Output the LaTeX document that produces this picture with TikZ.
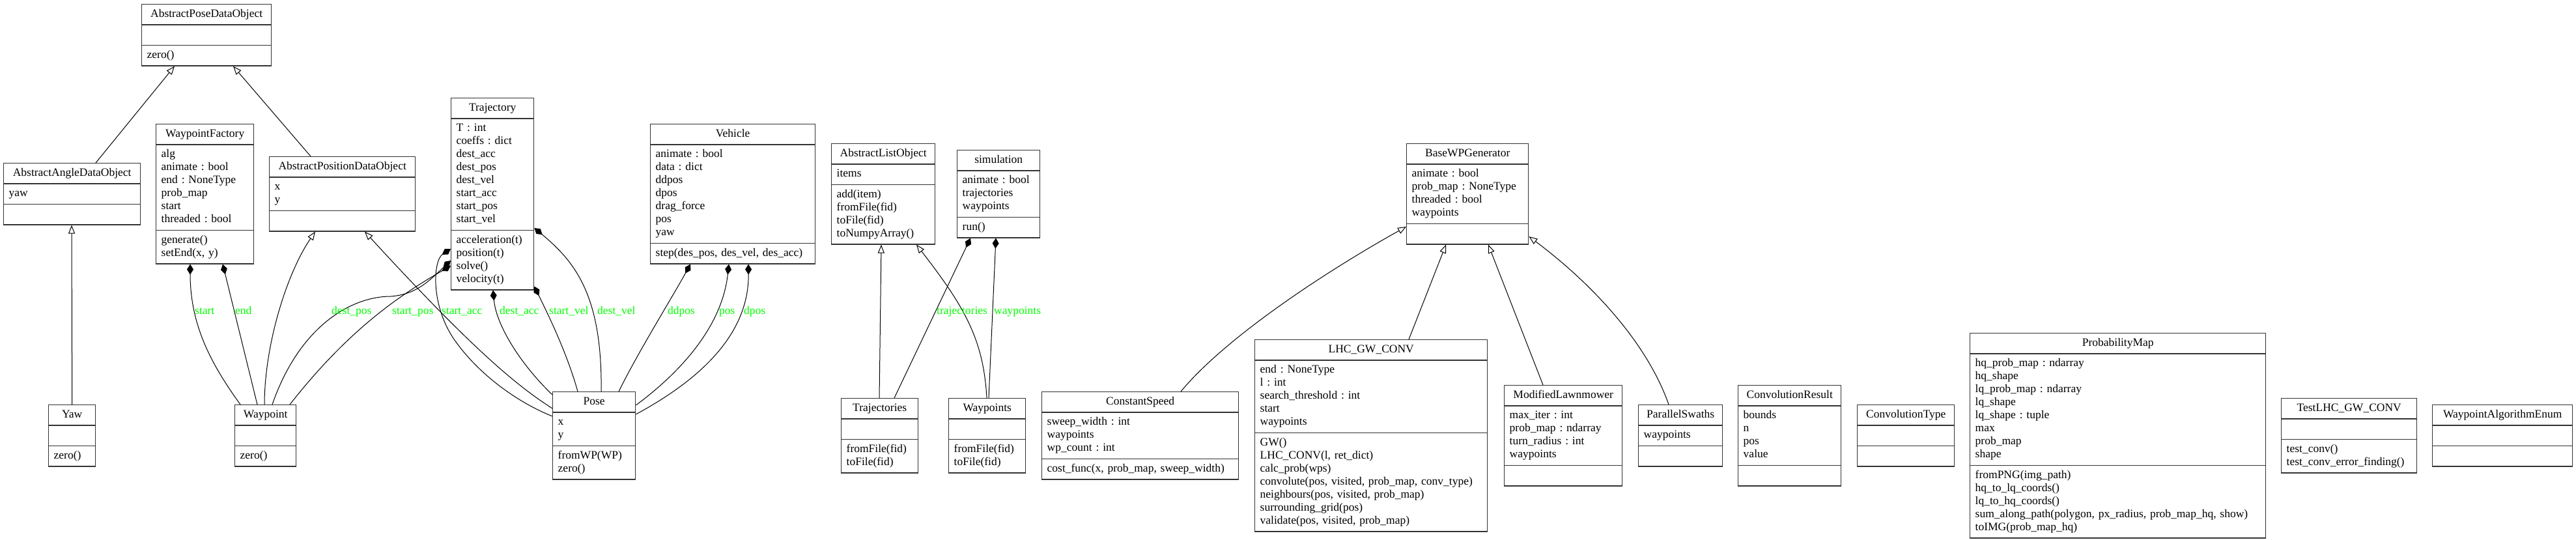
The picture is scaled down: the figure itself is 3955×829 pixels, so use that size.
\documentclass[tikz,border=0pt]{standalone}
\usepackage{fontspec}
\setmainfont{Liberation Serif}
\usetikzlibrary{shapes.multipart,arrows.meta}
\definecolor{labgreen}{RGB}{0,255,0}
\newcommand\umlfont{\fontsize{17.5}{20}\selectfont}
\newcommand\umltitle[1]{\makebox[\linewidth]{\strut #1}}
\setlength\parindent{0pt}
\frenchspacing

\begin{document}
\begin{tikzpicture}[ x=1pt, y=-1pt,
        umlclass/.style={ rectangle split, rectangle split parts=3,
          draw=black!80, line width=1.4pt, anchor=north west, align=left,
          inner xsep=8pt, inner ysep=5pt, font=\umlfont },
        inherit/.style={ -{Triangle[open,length=13pt,width=10pt]}, line width=1pt },
        compose/.style={ {Diamond[length=16pt,width=10pt]}-, line width=1pt },
        elabel/.style={ text=labgreen, anchor=base west, inner sep=0pt, font=\umlfont } ]
        \useasboundingbox[fill=white] (0,0) rectangle (3955,829);

        % pose data objects
        \node[umlclass, text width=183pt] (apdo) at (217,6)
        {\umltitle{AbstractPoseDataObject} \nodepart{two}\strut \nodepart{three}\strut zero()};
        \node[umlclass, text width=194pt] (aado) at (5,250)
        {\umltitle{AbstractAngleDataObject} \nodepart{two}\strut yaw \nodepart{three}\strut};
        \node[umlclass, text width=208pt] (aposdo) at (413,240)
        {\umltitle{AbstractPositionDataObject} \nodepart{two}\strut x\\y\strut \nodepart{three}\strut};
        \node[umlclass, text width=56pt] (yaw) at (74,621)
        {\umltitle{Yaw} \nodepart{two}\strut \nodepart{three}\strut zero()};
        \node[umlclass, text width=78pt] (wp) at (360,621)
        {\umltitle{Waypoint} \nodepart{two}\strut \nodepart{three}\strut zero()};
        \node[umlclass, text width=111pt] (pose) at (848,601)
        {\umltitle{Pose} \nodepart{two}\strut x\\y\strut \nodepart{three}\strut fromWP(WP)\\zero()\strut};

        \node[umlclass, text width=134pt] (wpf) at (239,190)
        {\umltitle{WaypointFactory} \nodepart{two}\strut alg\\animate : bool\\end : NoneType\\prob\_map\\start\\threaded : bool\strut
          \nodepart{three}\strut generate()\\setEnd(x, y)\strut};
        \node[umlclass, text width=111pt] (traj) at (692,150)
        {\umltitle{Trajectory} \nodepart{two}\strut T : int\\coeffs : dict\\dest\_acc\\dest\_pos\\dest\_vel\\start\_acc\\start\_pos\\start\_vel\strut
          \nodepart{three}\strut acceleration(t)\\position(t)\\solve()\\velocity(t)\strut};
        \node[umlclass, text width=237pt] (veh) at (998,190)
        {\umltitle{Vehicle} \nodepart{two}\strut animate : bool\\data : dict\\ddpos\\dpos\\drag\_force\\pos\\yaw\strut
          \nodepart{three}\strut step(des\_pos, des\_vel, des\_acc)};

        % lists
        \node[umlclass, text width=143pt] (alo) at (1276,220)
        {\umltitle{AbstractListObject} \nodepart{two}\strut items
          \nodepart{three}\strut add(item)\\fromFile(fid)\\toFile(fid)\\toNumpyArray()\strut};
        \node[umlclass, text width=111pt] (sim) at (1469,230)
        {\umltitle{simulation} \nodepart{two}\strut animate : bool\\trajectories\\waypoints\strut \nodepart{three}\strut run()};
        \node[umlclass, text width=102pt] (trajs) at (1291,611)
        {\umltitle{Trajectories} \nodepart{two}\strut \nodepart{three}\strut fromFile(fid)\\toFile(fid)\strut};
        \node[umlclass, text width=102pt] (wps) at (1456,611)
        {\umltitle{Waypoints} \nodepart{two}\strut \nodepart{three}\strut fromFile(fid)\\toFile(fid)\strut};

        % generators
        \node[umlclass, text width=171pt] (bwg) at (2159,220)
        {\umltitle{BaseWPGenerator} \nodepart{two}\strut animate : bool\\prob\_map : NoneType\\threaded : bool\\waypoints\strut \nodepart{three}\strut};
        \node[umlclass, text width=286pt] (cs) at (1599,601)
        {\umltitle{ConstantSpeed} \nodepart{two}\strut sweep\_width : int\\waypoints\\wp\_count : int\strut
          \nodepart{three}\strut cost\_func(x, prob\_map, sweep\_width)};
        \node[umlclass, text width=341pt] (lhc) at (1926,521)
        {\umltitle{LHC\_GW\_CONV} \nodepart{two}\strut end : NoneType\\l : int\\search\_threshold : int\\start\\waypoints\strut
          \nodepart{three}\strut GW()\\LHC\_CONV(l, ret\_dict)\\calc\_prob(wps)\\convolute(pos, visited, prob\_map, conv\_type)\\neighbours(pos, visited, prob\_map)\\surrounding\_grid(pos)\\validate(pos, visited, prob\_map)\strut};
        \node[umlclass, text width=165pt] (ml) at (2309,591)
        {\umltitle{ModifiedLawnmower} \nodepart{two}\strut max\_iter : int\\prob\_map : ndarray\\turn\_radius : int\\waypoints\strut \nodepart{three}\strut};
        \node[umlclass, text width=113pt] (ps) at (2515,621)
        {\umltitle{ParallelSwaths} \nodepart{two}\strut waypoints \nodepart{three}\strut};

        % standalone classes
        \node[umlclass, text width=142pt] (cr) at (2668,591)
        {\umltitle{ConvolutionResult} \nodepart{two}\strut bounds\\n\\pos\\value\strut \nodepart{three}\strut};
        \node[umlclass, text width=133pt] (ct) at (2851,621)
        {\umltitle{ConvolutionType} \nodepart{two}\strut \nodepart{three}\strut};
        \node[umlclass, text width=438pt] (pm) at (3024,511)
        {\umltitle{ProbabilityMap} \nodepart{two}\strut hq\_prob\_map : ndarray\\hq\_shape\\lq\_prob\_map : ndarray\\lq\_shape\\lq\_shape : tuple\\max\\prob\_map\\shape\strut
          \nodepart{three}\strut fromPNG(img\_path)\\hq\_to\_lq\_coords()\\lq\_to\_hq\_coords()\\sum\_along\_path(polygon, px\_radius, prob\_map\_hq, show)\\toIMG(prob\_map\_hq)\strut};
        \node[umlclass, text width=192pt] (test) at (3502,611)
        {\umltitle{TestLHC\_GW\_CONV} \nodepart{two}\strut \nodepart{three}\strut test\_conv()\\test\_conv\_error\_finding()\strut};
        \node[umlclass, text width=199pt] (wae) at (3734,621)
        {\umltitle{WaypointAlgorithmEnum} \nodepart{two}\strut \nodepart{three}\strut};

        % inheritance
        \draw[inherit] ([xshift=142pt]aado.north west) -- ([xshift=51pt]apdo.south west);
        \draw[inherit] ([xshift=64pt]aposdo.north west) -- ([xshift=141pt]apdo.south west);
        \draw[inherit] (yaw.north) -- ([xshift=105pt]aado.south west);
        \draw[inherit] ([xshift=46pt]wp.north west) .. controls (406,530) and (440,420) .. ([xshift=71pt]aposdo.south west);
        \draw[inherit] ([yshift=-26pt]pose.north west) .. controls (790,590) and (720,530) .. ([xshift=147pt]aposdo.south west);
        \draw[inherit] ([xshift=59pt]trajs.north west) -- ([xshift=77pt]alo.south west);
        \draw[inherit] ([xshift=59pt]wps.north west) .. controls (1510,520) and (1480,470) .. ([xshift=131pt]alo.south west);
        \draw[inherit] ([xshift=214pt]cs.north west) .. controls (1880,520) and (2030,420) .. ([yshift=-128pt]bwg.north west);
        \draw[inherit] ([xshift=237pt]lhc.north west) -- ([xshift=61pt]bwg.south west);
        \draw[inherit] ([xshift=60pt]ml.north west) -- ([xshift=126pt]bwg.south west);
        \draw[inherit] ([xshift=47pt]ps.north west) .. controls (2530,530) and (2450,440) .. ([yshift=-143pt]bwg.north east);

        % composition
        \draw[compose] ([xshift=53pt]wpf.south west) .. controls (292,500) and (325,560) .. ([xshift=9pt]wp.north west);
        \draw[compose] ([xshift=103pt]wpf.south west) -- ([xshift=35pt]wp.north west);
        \draw[compose] ([yshift=-250pt]traj.north west) .. controls (660,430) and (640,452) .. (600,455)
          .. controls (540,455) and (460,500) .. ([xshift=58pt]wp.north west);
        \draw[compose] ([yshift=-258pt]traj.north west) .. controls (620,450) and (540,500) .. ([xshift=85pt]wp.north west);
        \draw[compose] ([yshift=-232pt]traj.north west) .. controls (665,400) and (660,470) .. (700,525)
          .. controls (740,580) and (800,620) .. ([yshift=-38pt]pose.north west);
        \draw[compose] ([xshift=65pt]traj.south west) .. controls (762,500) and (800,560) .. ([yshift=-5pt]pose.north west);
        \draw[compose] ([yshift=6pt]traj.south east) .. controls (840,480) and (870,540) .. ([xshift=39pt]pose.north west);
        \draw[compose] ([yshift=-200pt]traj.north east) .. controls (880,400) and (925,450) .. ([xshift=75pt]pose.north west);
        \draw[compose] ([xshift=62pt]veh.south west) .. controls (1030,460) and (980,540) .. ([xshift=102pt]pose.north west);
        \draw[compose] ([xshift=121pt]veh.south west) .. controls (1110,490) and (1060,560) .. ([yshift=-21pt]pose.north east);
        \draw[compose] ([xshift=151pt]veh.south west) .. controls (1150,510) and (1080,580) .. ([yshift=-35pt]pose.north east);
        \draw[compose] ([xshift=21pt]sim.south west) -- ([xshift=82pt]trajs.north west);
        \draw[compose] ([xshift=60pt]sim.south west) -- ([xshift=62pt]wps.north west);

        \foreach \x/\l [count=\i] in {299/start, 361/end, 509/dest\_pos, 602/start\_pos,
          678/start\_acc, 767/dest\_acc, 843/start\_vel, 917/dest\_vel, 1025/ddpos,
          1104/pos, 1142/dpos, 1438/trajectories, 1526/waypoints}
        \node[elabel] (lab\i) at (\x,482) {\l};
      \end{tikzpicture}
\end{document}
